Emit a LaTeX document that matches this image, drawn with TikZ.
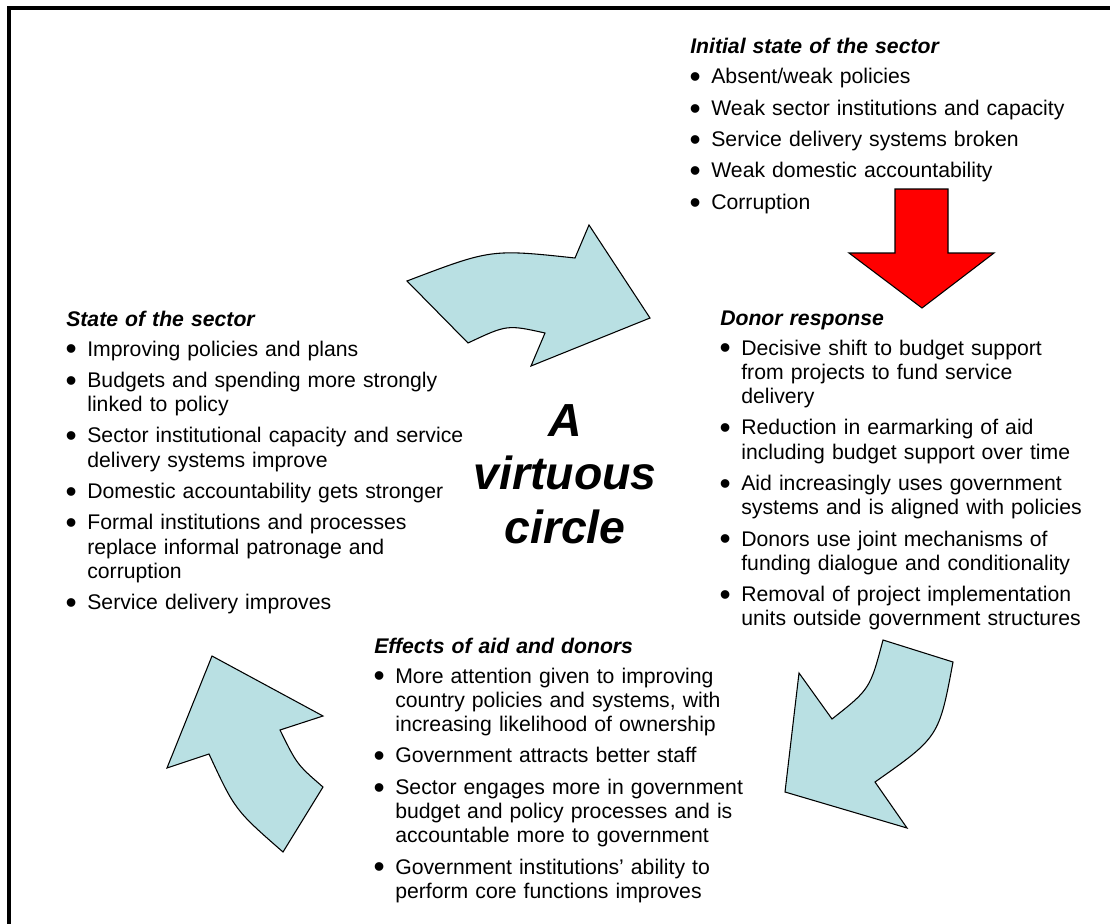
\documentclass[tikz,border=0pt]{standalone}
\usepackage{fontspec}
\setmainfont{Liberation Sans}
\usepackage{enumitem}
\usepackage{xcolor}

\definecolor{arrowblue}{RGB}{185,224,227}
\newcommand{\bigbullet}{\raisebox{-2.9pt}{\scalebox{1.5}{\textbullet}}}
\setlist[itemize]{label=\bigbullet,leftmargin=15.8pt,labelsep=7.9pt,itemsep=5.3pt,parsep=0pt,topsep=4.3pt,partopsep=0pt}

\tikzset{
	textblock/.style={anchor=base west,inner sep=0pt,text width=330pt,align=left,font=\fontsize{15.9}{18.2}\selectfont},
	bluearrow/.style={fill=arrowblue,draw=black,line width=0.8pt,line join=miter},
	redarrow/.style={fill=red,draw=black,line width=0.8pt,line join=miter},
}
\newcommand{\blockhead}[1]{{\bfseries\itshape #1}\par}

\begin{document}
\begin{tikzpicture}[x=0.75pt,y=-0.75pt]
		\fill[white] (0,0) rectangle (1110,924);
		\useasboundingbox (0,0) rectangle (1110,924);
		\draw[line width=3pt,line join=miter] (8.5,924) -- (8.5,8) -- (1110,8);
		% the four blocks of text
		\node[textblock] (initial) at (690,54) {\blockhead{Initial state of the sector}
			\begin{itemize}
				\item Absent/weak policies
				\item Weak sector institutions and capacity
				\item Service delivery systems broken
				\item Weak domestic accountability
				\item Corruption
			\end{itemize}};
		\node[textblock] (donor) at (720,325) {\blockhead{Donor response}
			\begin{itemize}
				\item Decisive shift to budget support\\ from projects to fund service\\ delivery
				\item Reduction in earmarking of aid\\ including budget support over time
				\item Aid increasingly uses government\\ systems and is aligned with policies
				\item Donors use joint mechanisms of\\ funding dialogue and conditionality
				\item Removal of project implementation\\ units outside government structures
			\end{itemize}};
		\node[textblock] (effects) at (374,653) {\blockhead{Effects of aid and donors}
			\begin{itemize}
				\item More attention given to improving\\ country policies and systems, with\\ increasing likelihood of ownership
				\item Government attracts better staff
				\item Sector engages more in government\\ budget and policy processes and is\\ accountable more to government
				\item Government institutions’ ability to\\ perform core functions improves
			\end{itemize}};
		\node[textblock] (state) at (66,326) {\blockhead{State of the sector}
			\begin{itemize}
				\item Improving policies and plans
				\item Budgets and spending more strongly\\ linked to policy
				\item Sector institutional capacity and service\\ delivery systems improve
				\item Domestic accountability gets stronger
				\item Formal institutions and processes\\ replace informal patronage and\\ corruption
				\item Service delivery improves
			\end{itemize}};
		\node[align=center,inner sep=0pt,font=\fontsize{34.8}{40}\selectfont\bfseries\itshape] (circle) at (565,474) {A\\virtuous\\circle};
		% the arrows round the circle
		\draw[redarrow] (895,189) -- (948,189) -- (948,253) -- (994,253) -- (922,308) -- (849,253) -- (895,253) -- cycle;
		\draw[bluearrow] (407,281) .. controls (491,249) .. (575,258) -- (589,225) -- (650,318) -- (531,366) -- (545,333) .. controls (507,324.6) .. (468,343) -- cycle;
		\draw[bluearrow] (883,640) -- (953,662) .. controls (939,737) .. (875,782) -- (907,828) -- (785,792) -- (799,673) -- (832,719) .. controls (870,689) .. (883,640) -- cycle;
		\draw[bluearrow] (212,656) -- (323,716) -- (280,730) .. controls (297,764.5) .. (323,787) -- (283,852) .. controls (235,810) .. (209,754) -- (167,768) -- cycle;
		%\draw[help lines] (0,0) grid[step=50] (1110,924);
	\end{tikzpicture}
\end{document}
